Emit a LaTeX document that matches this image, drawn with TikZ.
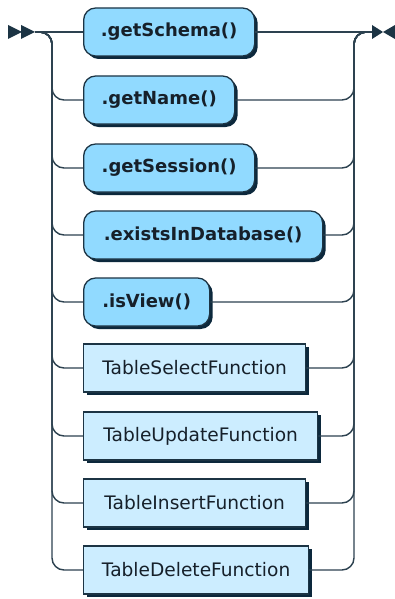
\documentclass[tikz,border=0pt]{standalone}
\usepackage{fontspec}
\setmainfont{DejaVu Sans}
\usetikzlibrary{shadows}
\definecolor{termfill}{RGB}{145,218,255}
\definecolor{ntfill}{RGB}{204,237,255}
\definecolor{boxline}{RGB}{28,52,68}
\definecolor{shadowc}{RGB}{12,40,60}
\definecolor{railc}{RGB}{45,66,80}
\definecolor{txt}{RGB}{22,32,42}
\begin{document}
\begin{tikzpicture}[x=1pt,y=-1pt,
  boxbase/.style={draw=boxline, line width=1.3pt, anchor=west, minimum height=48pt, inner sep=0pt, text=txt,
    drop shadow={shadow xshift=3pt, shadow yshift=-3pt, fill=shadowc, opacity=1}},
  term/.style={boxbase, fill=termfill, rounded corners=12pt, font=\bfseries\fontsize{18}{21}\selectfont},
  nonterm/.style={boxbase, fill=ntfill, font=\fontsize{18.6}{21}\selectfont},
  rail/.style={draw=railc, line width=1.4pt, rounded corners=12pt},
  marker/.style={fill=boxline, draw=none}]
\useasboundingbox (0,0) rectangle (395,599);
\fill[white] (0,0) rectangle (395,599);
% boxes
\node[term, minimum width=171pt] (b0) at (83,32) {.getSchema()};
\node[term, minimum width=151pt] (b1) at (83,100) {.getName()};
\node[term, minimum width=171pt] (b2) at (83,168) {.getSession()};
\node[term, minimum width=239pt] (b3) at (83,235) {.existsInDatabase()};
\node[term, minimum width=126pt] (b4) at (83,302) {.isView()};
\node[nonterm, minimum width=222pt] (b5) at (83,368) {TableSelectFunction};
\node[nonterm, minimum width=234pt] (b6) at (83,436) {TableUpdateFunction};
\node[nonterm, minimum width=222pt] (b7) at (83,503) {TableInsertFunction};
\node[nonterm, minimum width=225pt] (b8) at (83,570) {TableDeleteFunction};
% start / end markers
\coordinate (start) at (35,32);
\coordinate (finish) at (372,32);
\fill[marker] (8,25) -- (22,32) -- (8,39) -- cycle;
\fill[marker] (21,25) -- (35,32) -- (21,39) -- cycle;
\fill[marker] (372,25) -- (383,32) -- (372,39) -- cycle;
\fill[marker] (395,25) -- (383,32) -- (395,39) -- cycle;
% rails
\draw[rail] (start) -- (b0.west);
\draw[rail] (b0.east) -- (finish);
\foreach \i in {1,...,8}{
  \draw[rail] (40,32) -- (52,32) |- (b\i.west);
  \draw[rail] (b\i.east) -| (354,32) -- (366,32);
}
\end{tikzpicture}
\end{document}
